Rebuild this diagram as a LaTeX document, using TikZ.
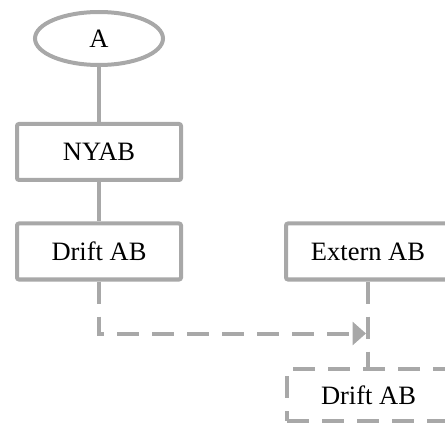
\documentclass[tikz,border=0pt]{standalone}
\usepackage{fontspec}
\setmainfont{Liberation Serif}
\usetikzlibrary{arrows.meta,shapes.geometric}
\definecolor{linegray}{RGB}{168,168,168}
\begin{document}
\begin{tikzpicture}[x=1pt,y=-1pt,
  lc/.style={draw=linegray,line width=4pt},
  txt/.style={font=\fontsize{26.5}{30}\selectfont,text=black},
  box/.style={lc,txt,rounded corners=2pt,minimum width=164pt,minimum height=56pt,inner sep=0pt},
  dbox/.style={box,dash pattern=on 22pt off 13pt,rounded corners=0pt},
  oval/.style={lc,txt,ellipse,minimum width=128pt,minimum height=53pt,inner sep=0pt},
  conn/.style={lc},
  dconn/.style={lc,dash pattern=on 22pt off 13pt},
  tip/.style={-{Triangle[length=13.5pt,width=23pt]}}]
\useasboundingbox (0,0) rectangle (445,425);
\clip (0,0) rectangle (445,425);
\node[oval] (a) at (99,38.5) {A};
\node[box] (nyab) at (99,152) {NYAB};
\node[box] (drift1) at (99,251.5) {Drift AB};
\node[box] (extern) at (368,251.5) {Extern AB};
\node[dbox,minimum width=163pt,minimum height=52pt] (drift2) at (368.5,395) {Drift AB};
\coordinate (m) at (366,333.5);
\draw[conn] (a) -- (nyab);
\draw[conn] (nyab) -- (drift1);
\draw[dconn] (extern.south) -- (drift2.north -| extern.south);
\draw[dconn,tip] (drift1.south) |- (m);
\end{tikzpicture}
\end{document}
